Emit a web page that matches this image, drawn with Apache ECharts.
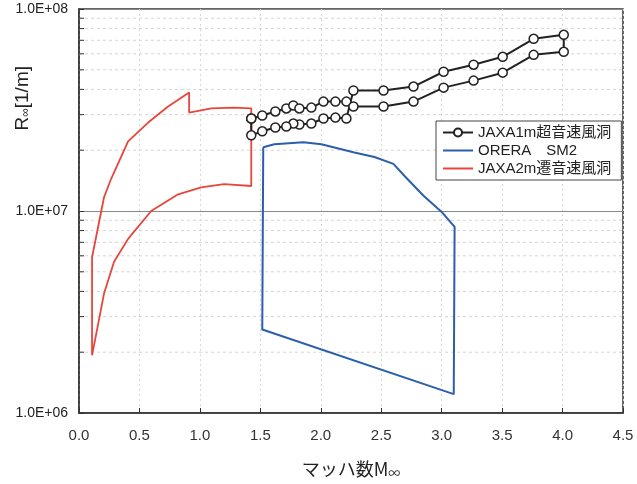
<!DOCTYPE html>
<html><head><meta charset="utf-8">
<script src="https://cdn.jsdelivr.net/npm/echarts@6/dist/echarts.min.js"></script>
<style>html,body{margin:0;padding:0;background:#fff}#c{width:637px;height:484px}</style>
</head><body><div id="c"></div>
<script>
// JAXA 1m supersonic wind tunnel (upper and lower boundaries)
const jaxa1mMach  = [1.425,1.516,1.624,1.715,1.773,1.823,1.922,2.022,2.121,2.212,2.27,2.519,2.767,3.016,3.264,3.505,3.761,4.01];
const jaxa1mUpper = [2.87e7,2.97e7,3.11e7,3.22e7,3.33e7,3.22e7,3.25e7,3.48e7,3.48e7,3.48e7,3.95e7,3.95e7,4.13e7,4.89e7,5.30e7,5.80e7,7.12e7,7.45e7];
const jaxa1mLower = [2.37e7,2.48e7,2.59e7,2.62e7,2.71e7,2.68e7,2.71e7,2.87e7,2.90e7,2.87e7,3.29e7,3.29e7,3.48e7,4.08e7,4.42e7,4.84e7,5.93e7,6.14e7];
// ONERA SM2 envelope
const oreraMach = [1.524,1.616,1.856,2.005,2.278,2.444,2.601,2.693,2.85,3.0,3.107,3.10,1.516,1.524];
const oreraR    = [2.07e7,2.14e7,2.19e7,2.14e7,1.95e7,1.85e7,1.71e7,1.49e7,1.19e7,9.89e6,8.34e6,1.24e6,2.59e6,2.07e7];
// JAXA 2m transonic wind tunnel envelope
const jaxa2mMach = [0.108,0.108,0.207,0.265,0.406,0.572,0.737,0.911,0.911,1.094,1.284,1.425,1.425,1.20,1.01,0.82,0.597,0.406,0.29,0.207,0.108];
const jaxa2mR    = [1.93e6,5.9e6,1.17e7,1.44e7,2.21e7,2.74e7,3.29e7,3.86e7,3.07e7,3.22e7,3.25e7,3.22e7,1.33e7,1.36e7,1.31e7,1.21e7,1.0e7,7.28e6,5.61e6,3.9e6,1.93e6];
// minor log grid values
const minorValues = [2e6,3e6,4e6,5e6,6e6,7e6,8e6,9e6,2e7,3e7,4e7,5e7,6e7,7e7,8e7,9e7];
const seriesNames = ['JAXA1m超音速風洞','ORERA　SM2','JAXA2m遷音速風洞'];

// build JAXA1m closed path (crossing at index 9/10)
const n = jaxa1mMach.length;
const jaxa1mPath = [];
for (let i = 0; i <= 9; i++) jaxa1mPath.push([jaxa1mMach[i], jaxa1mUpper[i]]);
for (let i = 10; i < n; i++) jaxa1mPath.push([jaxa1mMach[i], jaxa1mLower[i]]);
for (let i = n - 1; i >= 10; i--) jaxa1mPath.push([jaxa1mMach[i], jaxa1mUpper[i]]);
for (let i = 9; i >= 0; i--) jaxa1mPath.push([jaxa1mMach[i], jaxa1mLower[i]]);
jaxa1mPath.push([jaxa1mMach[0], jaxa1mUpper[0]]);

const lineIcon = 'path://M0,0L0.01,0L0.01,0.01L0,0.01Z M0,4L30,4L30,6L0,6Z M0,9.99L0.01,9.99L0.01,10L0,10Z';

const chart = echarts.init(document.getElementById('c'));
chart.setOption({
  animation: false,
  backgroundColor: '#fff',
  grid: {left: 79, right: 14, top: 9, bottom: 69, show: true, borderColor: '#333', borderWidth: 1.5, backgroundColor: 'transparent'},
  legend: {
    data: [
      {name: seriesNames[0]},
      {name: seriesNames[1], icon: lineIcon},
      {name: seriesNames[2], icon: lineIcon}
    ],
    orient: 'vertical', left: 436, top: 121,
    backgroundColor: '#fff', borderColor: '#444', borderWidth: 1,
    padding: [4, 10, 4, 6], itemGap: 3, itemWidth: 30, itemHeight: 10,
    textStyle: {fontSize: 15, color: '#222', fontFamily: 'Liberation Sans, Noto Sans CJK JP, sans-serif'}
  },
  xAxis: {
    type: 'value', min: 0, max: 4.5, interval: 0.5,
    name: 'マッハ数M{s|∞}', nameLocation: 'middle', nameGap: 46,
    nameTextStyle: {fontSize: 18, color: '#222', fontFamily: 'Noto Sans CJK JP, sans-serif',
      rich: {s: {fontSize: 12, color: '#222', padding: [8, 0, 0, 0], fontFamily: 'Noto Sans CJK JP, sans-serif'}}},
    axisLine: {lineStyle: {color: '#333', width: 1.5}},
    axisTick: {inside: true, length: 5, lineStyle: {color: '#333'}},
    axisLabel: {formatter: v => v.toFixed(1), fontSize: 15, color: '#333', margin: 15, fontFamily: 'Liberation Sans Narrow, Liberation Sans, sans-serif'},
    splitLine: {show: true, lineStyle: {color: '#d8d8d8', type: [2, 3]}}
  },
  yAxis: {
    type: 'log', logBase: 10, min: 1e6, max: 1e8,
    axisLine: {show: true, lineStyle: {color: '#333', width: 1.5}},
    axisTick: {inside: true, length: 5, lineStyle: {color: '#333'}},
    axisLabel: {formatter: v => {const e = Math.round(Math.log10(v)); return '1.0E+' + (e < 10 ? '0' + e : e);}, fontSize: 14, color: '#222', margin: 11, fontFamily: 'Liberation Sans, sans-serif'},
    splitLine: {show: true, lineStyle: {color: '#888', width: 1}}
  },
  graphic: [{
    type: 'text', left: 13, top: 66, rotation: Math.PI / 2,
    style: {text: 'R{s|∞}[1/m]', fontSize: 19, fill: '#222', fontFamily: 'Liberation Sans, sans-serif',
      rich: {s: {fontSize: 12, fill: '#222', padding: [7, 0, 0, 0]}}}
  }],
  series: [
    {
      type: 'custom', silent: true, z: 1,
      data: minorValues.map(v => [0, v]),
      encode: {x: 0, y: 1},
      renderItem: (params, api) => {
        const y = api.coord([0, api.value(1)])[1];
        const x0 = params.coordSys.x, x1 = x0 + params.coordSys.width;
        return {type: 'group', children: [
          {type: 'line', shape: {x1: x0, y1: y, x2: x1, y2: y}, style: {stroke: '#d4d4d4', lineWidth: 1, lineDash: [3, 3]}},
          {type: 'line', shape: {x1: x0, y1: y, x2: x0 + 5, y2: y}, style: {stroke: '#333', lineWidth: 1}}
        ]};
      }
    },
    {
      name: seriesNames[2], type: 'line', data: jaxa2mMach.map((m, i) => [m, jaxa2mR[i]]),
      showSymbol: false, symbol: 'none', lineStyle: {color: '#e8453c', width: 1.8}, itemStyle: {color: '#e8453c'}, z: 3
    },
    {
      name: seriesNames[1], type: 'line', data: oreraMach.map((m, i) => [m, oreraR[i]]),
      showSymbol: false, symbol: 'none', lineStyle: {color: '#2b5fae', width: 2}, itemStyle: {color: '#2b5fae'}, z: 3
    },
    {
      name: seriesNames[0], type: 'line', data: jaxa1mPath,
      symbol: 'circle', symbolSize: 9, showSymbol: true,
      lineStyle: {color: '#222', width: 2},
      itemStyle: {color: '#fff', borderColor: '#222', borderWidth: 1.5}, z: 4
    }
  ]
});
</script></body></html>
